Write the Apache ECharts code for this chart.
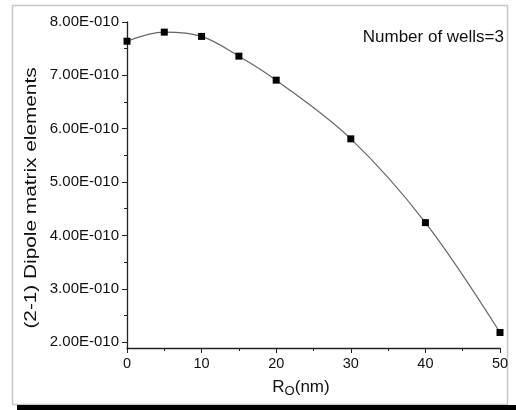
<!DOCTYPE html>
<html>
<head>
<meta charset="utf-8">
<script src="https://cdn.jsdelivr.net/npm/echarts@6/dist/echarts.min.js"></script>
<style>
html,body{margin:0;padding:0;background:#fff;}
#chart{width:516px;height:410px;}
</style>
</head>
<body>
<div id="chart"></div>
<script>
// R0 in nm, dipole element in units of 1E-010
var r0 = [0, 5, 10, 15, 20, 30, 40, 50];
var dipole = [7.64, 7.81, 7.73, 7.36, 6.91, 5.81, 4.24, 2.18];
var yTicks = [2, 3, 4, 5, 6, 7, 8];
var yMinor = [2.5, 3.5, 4.5, 5.5, 6.5, 7.5];

var font = 'Liberation Sans, Arial, sans-serif';

var myChart = echarts.init(document.getElementById('chart'));

var option = {
    backgroundColor: '#fff',
    animation: false,
    grid: {
        left: 127,
        right: 16,
        top: 22,
        bottom: 62
    },
    graphic: [
        {
            type: 'rect',
            shape: {x: 12.5, y: 5.5, width: 495, height: 399},
            style: {fill: 'none', stroke: '#c8c8c8', lineWidth: 1.5}
        },
        {
            type: 'rect',
            shape: {x: 17, y: 405, width: 499, height: 5},
            style: {fill: '#000'}
        },
        {
            type: 'text',
            right: 12,
            top: 29,
            style: {text: 'Number of wells=3', fill: '#111', font: '17px ' + font}
        },
        {
            // y axis title, stretched along its length like the original
            type: 'text',
            x: 32,
            y: 198,
            rotation: Math.PI / 2,
            scaleX: 1.3,
            style: {
                text: '(2-1) Dipole matrix elements',
                fill: '#111',
                font: '16px ' + font,
                align: 'center',
                verticalAlign: 'middle'
            }
        },
        {
            type: 'text',
            x: 301,
            y: 387,
            style: {
                text: '{r|R}{s|O}{r|(nm)}',
                align: 'center',
                verticalAlign: 'middle',
                rich: {
                    r: {fontSize: 17, fontFamily: font, fill: '#111'},
                    s: {fontSize: 13, fontFamily: font, fill: '#111', padding: [8, 0, 0, 0]}
                }
            }
        }
    ],
    xAxis: {
        type: 'value',
        min: 0,
        max: 50,
        interval: 10,
        axisLine: {lineStyle: {color: '#222', width: 1.3}},
        axisTick: {show: true, length: 5, lineStyle: {color: '#222'}},
        minorTick: {show: true, splitNumber: 2, length: 3, lineStyle: {color: '#222'}},
        axisLabel: {color: '#111', fontSize: 14.5, fontFamily: font, margin: 8},
        splitLine: {show: false}
    },
    yAxis: [
        {
            type: 'value',
            min: 1.89,
            max: 8.0,
            axisLine: {show: true, lineStyle: {color: '#222', width: 1.3}},
            axisTick: {show: true, length: 5, customValues: yTicks, lineStyle: {color: '#222'}},
            axisLabel: {
                color: '#111',
                fontSize: 15,
                fontFamily: font,
                margin: 8,
                customValues: yTicks,
                formatter: function (v) { return v.toFixed(2) + 'E-010'; }
            },
            splitLine: {show: false}
        },
        {
            type: 'value',
            position: 'left',
            min: 1.89,
            max: 8.0,
            axisLine: {show: false},
            axisTick: {show: true, length: 3, customValues: yMinor, lineStyle: {color: '#222'}},
            axisLabel: {show: false, customValues: yMinor},
            splitLine: {show: false}
        }
    ],
    series: [
        {
            type: 'line',
            data: r0.map(function (x, i) { return [x, dipole[i]]; }),
            smooth: 0.35,
            symbol: 'rect',
            symbolSize: 7,
            itemStyle: {color: '#000'},
            lineStyle: {color: '#666', width: 1.2}
        }
    ]
};

myChart.setOption(option);
</script>
</body>
</html>
